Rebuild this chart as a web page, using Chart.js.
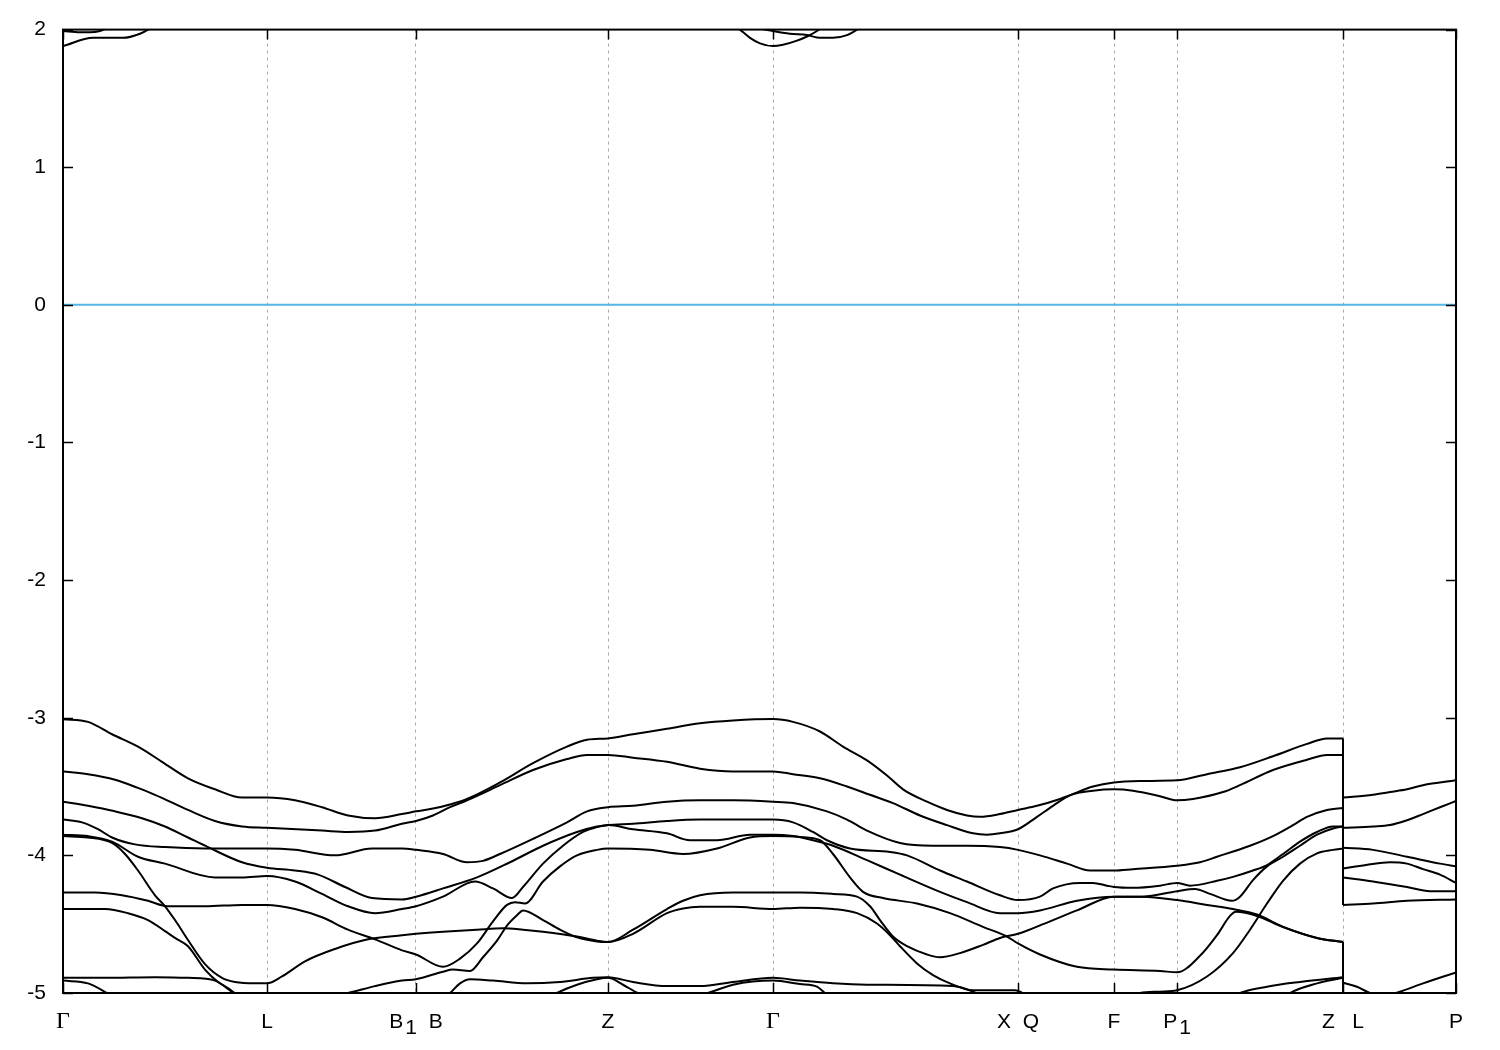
<!DOCTYPE html>
<html>
<head>
<meta charset="utf-8">
<title>Band structure</title>
<script src="https://cdn.jsdelivr.net/npm/chart.js@4.4.1/dist/chart.umd.min.js"></script>
<style>
  html, body { margin: 0; padding: 0; background: #fff; }
  canvas { display: block; }
</style>
</head>
<body>
<canvas id="bandChart" width="1500" height="1050"></canvas>
<script>
// k-path: high symmetry points and their labels (_ marks a subscript, gnuplot style)
const kTicks = [0, 2.04, 3.53, 5.45, 7.10, 9.55, 10.51, 11.14, 12.80, 13.93];
const kLabels = ['Γ', 'L', 'B_1  B', 'Z', 'Γ', 'X  Q', 'F', 'P_1', 'Z   L', 'P'];
const energyTicks = [-5, -4, -3, -2, -1, 0, 1, 2];

// bands as [k, E(eV)]; a repeated k is the jump at Z|L
const band1 = [[0,-3.01],[0.25,-3.03],[0.49,-3.12],[0.75,-3.21],[0.99,-3.32],[1.25,-3.44],[1.52,-3.52],[1.79,-3.58],[2.04,-3.58],[2.32,-3.60],[2.59,-3.65],[2.85,-3.71],[3.12,-3.73],[3.39,-3.70],[3.53,-3.68],[3.70,-3.66],[3.87,-3.63],[4.04,-3.59],[4.37,-3.47],[4.70,-3.33],[5.04,-3.21],[5.24,-3.16],[5.45,-3.15],[5.70,-3.12],[6.04,-3.08],[6.37,-3.04],[6.70,-3.02],[7.10,-3.01],[7.30,-3.03],[7.57,-3.10],[7.80,-3.21],[8.04,-3.31],[8.24,-3.42],[8.40,-3.52],[8.64,-3.61],[8.84,-3.67],[9.04,-3.71],[9.17,-3.72],[9.37,-3.70],[9.55,-3.67],[9.74,-3.64],[9.97,-3.59],[10.08,-3.56],[10.30,-3.50],[10.51,-3.47],[10.77,-3.46],[11.14,-3.455],[11.44,-3.41],[11.77,-3.36],[12.10,-3.28],[12.44,-3.19],[12.64,-3.15],[12.80,-3.15],[12.80,-3.58],[13.10,-3.56],[13.27,-3.54],[13.44,-3.52],[13.60,-3.49],[13.93,-3.455]];
const band2 = [[0,-3.39],[0.25,-3.41],[0.52,-3.45],[0.75,-3.51],[0.92,-3.56],[1.25,-3.67],[1.52,-3.75],[1.79,-3.79],[2.04,-3.80],[2.59,-3.82],[2.85,-3.83],[3.12,-3.82],[3.39,-3.77],[3.53,-3.75],[3.70,-3.71],[3.87,-3.65],[4.04,-3.60],[4.37,-3.49],[4.70,-3.38],[5.04,-3.30],[5.24,-3.27],[5.45,-3.27],[5.70,-3.29],[6.04,-3.32],[6.37,-3.37],[6.70,-3.39],[7.10,-3.39],[7.30,-3.41],[7.57,-3.44],[7.84,-3.50],[8.07,-3.56],[8.30,-3.62],[8.57,-3.71],[8.84,-3.78],[9.10,-3.84],[9.24,-3.85],[9.37,-3.84],[9.55,-3.81],[9.74,-3.72],[9.90,-3.64],[10.08,-3.56],[10.30,-3.53],[10.51,-3.52],[10.70,-3.53],[10.97,-3.57],[11.14,-3.60],[11.30,-3.59],[11.60,-3.54],[11.77,-3.49],[12.10,-3.38],[12.44,-3.305],[12.64,-3.27],[12.80,-3.27],[12.80,-3.80],[13.10,-3.79],[13.27,-3.78],[13.44,-3.745],[13.60,-3.70],[13.77,-3.65],[13.93,-3.605]];
const band3 = [[0,-3.61],[0.25,-3.64],[0.52,-3.68],[0.79,-3.73],[1.02,-3.79],[1.25,-3.87],[1.45,-3.94],[1.79,-4.05],[2.04,-4.09],[2.32,-4.11],[2.55,-4.14],[2.82,-4.23],[3.09,-4.31],[3.39,-4.32],[3.53,-4.30],[3.80,-4.24],[4.14,-4.16],[4.47,-4.05],[4.80,-3.93],[5.14,-3.83],[5.34,-3.79],[5.45,-3.78],[5.70,-3.77],[6.04,-3.75],[6.37,-3.74],[6.70,-3.74],[7.10,-3.74],[7.30,-3.76],[7.50,-3.83],[7.64,-3.89],[7.87,-3.95],[8.27,-3.975],[8.44,-4.00],[8.77,-4.11],[9.04,-4.19],[9.37,-4.29],[9.55,-4.325],[9.77,-4.30],[9.90,-4.24],[10.17,-4.20],[10.30,-4.20],[10.44,-4.22],[10.51,-4.23],[10.70,-4.236],[10.97,-4.22],[11.14,-4.20],[11.27,-4.22],[11.54,-4.185],[11.70,-4.156],[11.90,-4.11],[12.04,-4.07],[12.20,-3.99],[12.37,-3.90],[12.54,-3.83],[12.70,-3.79],[12.80,-3.79],[12.80,-4.095],[13.03,-4.07],[13.27,-4.05],[13.44,-4.06],[13.60,-4.10],[13.77,-4.14],[13.93,-4.20]];
const band4 = [[0,-3.74],[0.19,-3.76],[0.35,-3.81],[0.49,-3.87],[0.72,-3.92],[1.02,-3.94],[1.42,-3.95],[2.04,-3.95],[2.32,-3.96],[2.72,-4.00],[3.09,-3.95],[3.39,-3.95],[3.53,-3.96],[3.80,-3.99],[4.04,-4.05],[4.20,-4.04],[4.37,-3.99],[4.70,-3.88],[5.04,-3.76],[5.24,-3.68],[5.45,-3.65],[5.70,-3.64],[6.04,-3.61],[6.37,-3.60],[6.70,-3.60],[7.10,-3.61],[7.30,-3.62],[7.64,-3.68],[7.84,-3.74],[8.04,-3.82],[8.37,-3.91],[8.70,-3.93],[9.04,-3.93],[9.37,-3.94],[9.55,-3.96],[9.77,-4.00],[10.04,-4.06],[10.27,-4.11],[10.51,-4.11],[10.70,-4.10],[11.14,-4.075],[11.37,-4.05],[11.54,-4.01],[11.87,-3.93],[12.10,-3.86],[12.30,-3.78],[12.44,-3.72],[12.64,-3.67],[12.80,-3.655],[12.80,-3.945],[13.10,-3.96],[13.44,-4.01],[13.77,-4.06],[13.93,-4.08]];
const band5 = [[0,-3.85],[0.25,-3.86],[0.49,-3.90],[0.75,-4.01],[1.02,-4.06],[1.52,-4.16],[1.79,-4.16],[2.04,-4.15],[2.32,-4.19],[2.59,-4.28],[2.85,-4.37],[3.12,-4.42],[3.39,-4.39],[3.53,-4.37],[3.80,-4.30],[4.12,-4.19],[4.30,-4.24],[4.49,-4.31],[4.60,-4.23],[4.80,-4.06],[5.00,-3.93],[5.20,-3.83],[5.34,-3.795],[5.45,-3.78],[5.70,-3.81],[6.04,-3.84],[6.27,-3.89],[6.54,-3.89],[6.87,-3.85],[7.10,-3.85],[7.30,-3.86],[7.50,-3.89],[7.70,-3.93],[8.04,-4.035],[8.37,-4.14],[8.77,-4.265],[9.04,-4.34],[9.37,-4.42],[9.55,-4.42],[9.77,-4.40],[10.14,-4.33],[10.51,-4.30],[10.80,-4.30],[11.14,-4.26],[11.32,-4.245],[11.47,-4.28],[11.69,-4.33],[11.77,-4.30],[11.90,-4.18],[12.04,-4.08],[12.20,-4.01],[12.37,-3.93],[12.54,-3.85],[12.70,-3.805],[12.80,-3.79],[12.80,-4.16],[13.10,-4.19],[13.44,-4.23],[13.67,-4.26],[13.93,-4.26]];
const band6 = [[0,-3.86],[0.25,-3.87],[0.49,-3.91],[0.62,-3.99],[0.75,-4.11],[0.92,-4.29],[1.02,-4.37],[1.12,-4.47],[1.25,-4.615],[1.42,-4.79],[1.59,-4.89],[1.72,-4.92],[1.92,-4.93],[2.04,-4.93],[2.19,-4.88],[2.42,-4.77],[2.72,-4.68],[3.05,-4.61],[3.39,-4.58],[3.53,-4.57],[3.80,-4.555],[4.14,-4.54],[4.40,-4.53],[4.60,-4.54],[4.80,-4.555],[5.14,-4.59],[5.34,-4.62],[5.45,-4.63],[5.70,-4.57],[6.04,-4.42],[6.20,-4.386],[6.37,-4.374],[6.70,-4.374],[7.10,-4.39],[7.37,-4.38],[7.70,-4.39],[7.94,-4.42],[8.14,-4.495],[8.27,-4.58],[8.37,-4.66],[8.54,-4.785],[8.70,-4.87],[8.87,-4.93],[9.10,-4.98],[9.37,-4.98],[9.52,-4.98],[9.65,-5.02],[10.0,-5.1],[10.5,-5.08],[10.77,-5.0],[10.97,-4.99],[11.14,-4.98],[11.44,-4.88],[11.70,-4.71],[11.87,-4.54],[12.04,-4.35],[12.20,-4.185],[12.37,-4.06],[12.54,-3.985],[12.70,-3.96],[12.80,-3.95],[12.80,-4.36],[13.10,-4.35],[13.44,-4.33],[13.93,-4.32]];
const band7 = [[0,-4.27],[0.32,-4.27],[0.59,-4.29],[0.85,-4.33],[1.05,-4.37],[1.42,-4.37],[1.79,-4.36],[2.04,-4.36],[2.32,-4.39],[2.59,-4.45],[2.85,-4.54],[3.12,-4.61],[3.39,-4.69],[3.53,-4.72],[3.80,-4.81],[3.97,-4.75],[4.14,-4.64],[4.30,-4.48],[4.44,-4.36],[4.52,-4.34],[4.62,-4.35],[4.80,-4.19],[4.97,-4.08],[5.14,-4.00],[5.34,-3.96],[5.45,-3.95],[5.87,-3.96],[6.20,-3.99],[6.54,-3.95],[6.87,-3.87],[7.10,-3.86],[7.37,-3.866],[7.57,-3.89],[7.70,-3.99],[7.87,-4.16],[8.00,-4.265],[8.20,-4.31],[8.54,-4.35],[8.87,-4.42],[9.20,-4.52],[9.44,-4.59],[9.55,-4.64],[9.77,-4.72],[10.14,-4.81],[10.51,-4.83],[10.97,-4.84],[11.14,-4.85],[11.37,-4.73],[11.54,-4.58],[11.67,-4.44],[11.73,-4.41],[11.94,-4.44],[12.20,-4.52],[12.54,-4.60],[12.80,-4.63],[12.80,-4.925],[12.94,-4.955],[13.07,-5.0],[13.20,-5.02],[13.33,-5.0],[13.60,-4.93],[13.93,-4.85]];
const band8 = [[0,-4.39],[0.42,-4.39],[0.65,-4.42],[0.85,-4.47],[1.02,-4.55],[1.12,-4.60],[1.25,-4.66],[1.42,-4.83],[1.55,-4.92],[1.66,-4.97],[1.75,-5.02],[1.85,-5.08]];
const band9 = [[0,-4.89],[0.42,-4.89],[0.92,-4.885],[1.25,-4.89],[1.52,-4.91],[1.65,-4.97],[1.75,-5.03],[1.85,-5.08]];
const band10 = [[0,-4.91],[0.25,-4.93],[0.44,-5.00],[0.60,-5.07]];
const band11 = [[2.40,-5.08],[2.52,-5.04],[2.85,-5.00],[3.12,-4.95],[3.39,-4.91],[3.53,-4.90],[3.80,-4.845],[3.90,-4.83],[4.07,-4.84],[4.20,-4.74],[4.34,-4.62],[4.44,-4.51],[4.54,-4.435],[4.60,-4.40],[4.80,-4.47],[4.97,-4.54],[5.14,-4.596],[5.34,-4.626],[5.45,-4.63],[5.70,-4.54],[6.04,-4.39],[6.20,-4.33],[6.37,-4.29],[6.70,-4.27],[7.10,-4.27],[7.37,-4.27],[7.70,-4.28],[7.94,-4.30],[8.07,-4.37],[8.17,-4.47],[8.30,-4.59],[8.44,-4.66],[8.64,-4.72],[8.77,-4.74],[8.97,-4.71],[9.20,-4.65],[9.37,-4.60],[9.55,-4.57],[9.80,-4.50],[10.14,-4.40],[10.51,-4.30],[10.80,-4.30],[11.14,-4.325],[11.44,-4.36],[11.70,-4.39],[11.94,-4.43],[12.20,-4.52],[12.54,-4.60],[12.80,-4.63],[12.80,-5.12]];
const band12 = [[3.75,-5.06],[3.87,-5.0],[3.97,-4.93],[4.07,-4.90],[4.30,-4.91],[4.64,-4.93],[4.97,-4.92],[5.30,-4.89],[5.45,-4.886],[5.70,-4.92],[6.04,-4.95],[6.37,-4.95],[6.70,-4.92],[7.10,-4.89],[7.37,-4.91],[7.70,-4.93],[8.04,-4.94],[8.90,-4.95],[9.10,-4.99],[9.25,-5.04]];
const band13 = [[4.85,-5.04],[4.94,-5.0],[5.14,-4.94],[5.34,-4.90],[5.45,-4.89],[5.60,-4.94],[5.75,-5.0],[6.10,-5.06],[6.45,-5.0],[6.70,-4.94],[7.10,-4.91],[7.37,-4.935],[7.54,-4.954],[7.62,-5.0],[7.72,-5.05]];
const band12Tail = [[11.65,-5.05],[11.77,-5.0],[12.04,-4.954],[12.37,-4.92],[12.80,-4.886],[12.80,-5.1]];
const band13Tail = [[12.18,-5.05],[12.27,-5.0],[12.54,-4.93],[12.80,-4.89],[12.80,-5.1]];

// conduction bands, only their minima near Gamma show
const cond1Gamma = [[0,1.88],[0.30,1.94],[0.60,1.94],[0.77,1.97],[0.85,2.0],[1.0,2.08]];
const cond2Gamma = [[0,1.99],[0.17,1.98],[0.27,1.98],[0.37,1.99],[0.50,2.03]];
const cond1Gamma2 = [[6.60,2.10],[6.77,2.0],[6.87,1.94],[6.97,1.90],[7.10,1.88],[7.20,1.89],[7.34,1.92],[7.44,1.95],[7.54,1.99],[7.65,2.05]];
const cond2Gamma2 = [[6.90,2.02],[7.10,1.99],[7.27,1.97],[7.44,1.96],[7.57,1.94],[7.70,1.94],[7.84,1.96],[7.92,1.99],[8.05,2.05]];

const fermiLevel = [[0, 0], [13.93, 0]];

const allBands = [band1, band2, band3, band4, band5, band6, band7, band8, band9, band10,
  band11, band12, band13, band12Tail, band13Tail, cond1Gamma, cond2Gamma, cond1Gamma2, cond2Gamma2];

const toXY = pts => pts.map(p => ({ x: p[0], y: p[1] }));

// split a band at repeated k: smooth pieces plus a straight vertical jump
function bandDatasets(pts) {
  const out = [];
  let cur = [pts[0]];
  const smooth = seg => ({ data: toXY(seg), borderColor: '#000', borderWidth: 2,
    pointRadius: 0, cubicInterpolationMode: 'monotone', fill: false });
  for (let i = 1; i < pts.length; i++) {
    if (pts[i][0] === pts[i - 1][0]) {
      out.push(smooth(cur));
      out.push({ data: toXY([pts[i - 1], pts[i]]), borderColor: '#000', borderWidth: 2,
        pointRadius: 0, tension: 0, fill: false });
      cur = [pts[i]];
    } else {
      cur.push(pts[i]);
    }
  }
  if (cur.length > 1) out.push(smooth(cur));
  return out;
}

const datasets = [];
datasets.push({ data: toXY(fermiLevel), borderColor: '#56b4e9', borderWidth: 2, pointRadius: 0, tension: 0 });
allBands.forEach(b => bandDatasets(b).forEach(d => datasets.push(d)));

// frame, inward ticks and k-point labels like gnuplot
const framePlugin = {
  id: 'frame',
  afterDatasetsDraw(chart) {
    const { ctx, chartArea: a, scales } = chart;
    ctx.save();
    ctx.strokeStyle = '#000';
    ctx.lineWidth = 1.5;
    const tl = 10;
    ctx.beginPath();
    energyTicks.forEach(v => {
      const y = Math.round(scales.y.getPixelForValue(v)) + 0.5;
      ctx.moveTo(a.left, y); ctx.lineTo(a.left + tl, y);
      ctx.moveTo(a.right, y); ctx.lineTo(a.right - tl, y);
    });
    kTicks.forEach(k => {
      const x = Math.round(scales.x.getPixelForValue(k)) + 0.5;
      ctx.moveTo(x, a.bottom); ctx.lineTo(x, a.bottom - tl);
      ctx.moveTo(x, a.top); ctx.lineTo(x, a.top + tl);
    });
    ctx.stroke();
    ctx.lineWidth = 2;
    ctx.strokeRect(a.left, a.top, a.right - a.left, a.bottom - a.top);

    // labels under the axis, subscripts full size and lowered
    ctx.fillStyle = '#000';
    ctx.textBaseline = 'alphabetic';
    ctx.textAlign = 'left';
    const base = a.bottom + 35;
    kLabels.forEach((lab, i) => {
      const parts = [];
      lab.split('_').forEach((s, j) => {
        if (j === 0) { parts.push({ t: s, sub: false }); return; }
        parts.push({ t: s[0], sub: true });
        if (s.length > 1) parts.push({ t: s.slice(1), sub: false });
      });
      const fontFor = p => (p.t === 'Γ') ? '24px "Liberation Serif"' : '21px "Liberation Sans"';
      let w = 0;
      parts.forEach(p => { ctx.font = fontFor(p); p.w = ctx.measureText(p.t).width + (p.sub ? 2 : 0); w += p.w; });
      let x = scales.x.getPixelForValue(kTicks[i]) - w / 2;
      parts.forEach(p => {
        ctx.font = fontFor(p);
        ctx.fillText(p.t, x + (p.sub ? 2 : 0), base + (p.sub ? 6 : 0));
        x += p.w;
      });
    });
    ctx.restore();
  }
};

function createChart() {
  const ctx = document.getElementById('bandChart').getContext('2d');
  Chart.defaults.color = '#000';

  new Chart(ctx, {
    type: 'line',
    data: { datasets: datasets },
    options: {
      responsive: false,
      devicePixelRatio: 1,
      animation: false,
      layout: { padding: { top: 28, right: 44, left: 0, bottom: 0 } },
      plugins: { legend: { display: false }, tooltip: { enabled: false } },
      scales: {
        x: {
          type: 'linear',
          min: 0,
          max: 13.93,
          afterBuildTicks: s => { s.ticks = kTicks.map(v => ({ value: v })); },
          afterFit: s => { s.height = 57; },
          grid: {
            drawTicks: false,
            lineWidth: 1,
            color: c => (c.index === 0 || c.index === kTicks.length - 1) ? 'rgba(0,0,0,0)' : '#a8a8a8'
          },
          border: { display: false, dash: [3, 4] },
          ticks: { display: false, autoSkip: false }
        },
        y: {
          min: -5,
          max: 2,
          afterBuildTicks: s => { s.ticks = energyTicks.map(v => ({ value: v })); },
          afterFit: s => { s.width = 63; },
          grid: { display: false, drawTicks: false },
          border: { display: false },
          ticks: {
            padding: 17,
            callback: v => String(v),
            font: { family: 'Liberation Sans', size: 21 }
          }
        }
      }
    },
    plugins: [framePlugin]
  });
}

window.onload = createChart;
</script>
</body>
</html>
